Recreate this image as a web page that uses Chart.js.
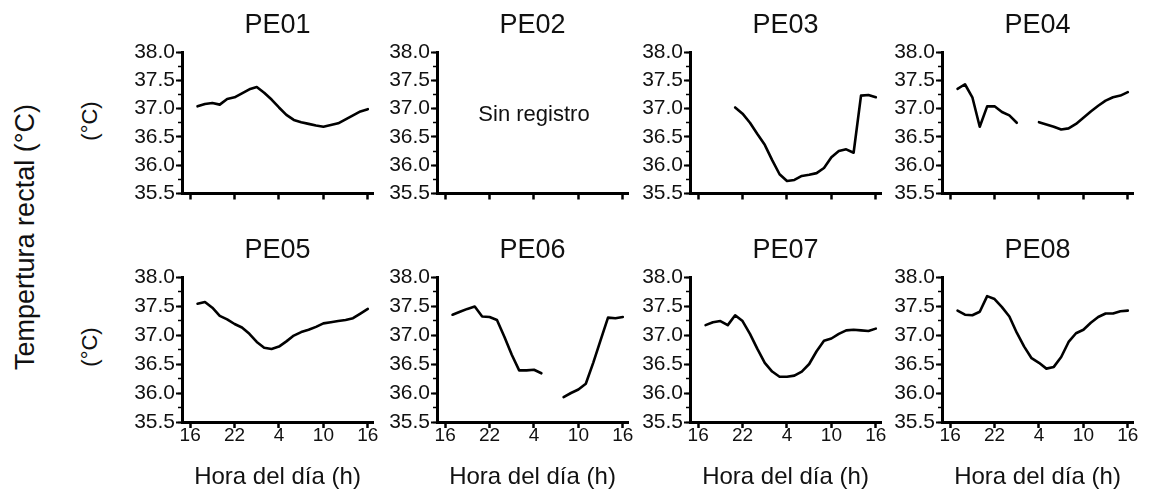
<!DOCTYPE html>
<html>
<head>
<meta charset="utf-8">
<script src="https://cdn.jsdelivr.net/npm/chart.js@4.4.1/dist/chart.umd.min.js"></script>
<style>
  body { margin: 0; background: #fff; width: 1152px; height: 492px; position: relative; overflow: hidden;
         font-family: "Liberation Sans", Arial, sans-serif; color: #111; }
  canvas { position: absolute; }
  .vlab { position: absolute; white-space: nowrap; line-height: 1;
          transform: translate(-50%, -50%) rotate(-90deg); }
</style>
</head>
<body>
<div class="vlab" style="left:25px; top:237px; font-size:27px;">Tempertura rectal (°C)</div>
<div class="vlab" style="left:90px; top:121px; font-size:22px;">(°C)</div>
<div class="vlab" style="left:90px; top:347px; font-size:22px;">(°C)</div>

<script>
const FONT = '"Liberation Sans", Arial, sans-serif';

// Sampling hours (16 h of day one through 16 h of day two, hourly)
const hours = [17, 18, 19, 20, 21, 22, 23, 24, 25, 26, 27, 28,
               29, 30, 31, 32, 33, 34, 35, 36, 37, 38, 39, 40];

// Tick positions on the continuous hour axis and the clock labels shown there
const xTickValues = [16, 22, 28, 34, 40];
const xTickLabels = ['16', '22', '4', '10', '16'];

const panelNames = ['PE01', 'PE02', 'PE03', 'PE04', 'PE05', 'PE06', 'PE07', 'PE08'];

// Rectal temperature (°C) per animal; null = no reading
const pe01 = [37.04, 37.08, 37.10, 37.07, 37.17, 37.20, 37.27, 37.34, 37.38, 37.28, 37.16, 37.02,
              36.89, 36.80, 36.76, 36.73, 36.70, 36.68, 36.71, 36.74, 36.81, 36.88, 36.95, 36.99];
const pe02 = [null, null, null, null, null, null, null, null, null, null, null, null,
              null, null, null, null, null, null, null, null, null, null, null, null];
const pe03 = [null, null, null, null, 37.02, 36.91, 36.75, 36.55, 36.36, 36.09, 35.84, 35.72,
              35.74, 35.81, 35.83, 35.86, 35.95, 36.14, 36.25, 36.28, 36.22, 37.23, 37.24, 37.20];
const pe04 = [37.35, 37.43, 37.20, 36.68, 37.04, 37.04, 36.94, 36.88, 36.75, null, null, 36.76,
              36.72, 36.68, 36.63, 36.65, 36.73, 36.84, 36.95, 37.05, 37.14, 37.20, 37.23, 37.29];
const pe05 = [37.54, 37.57, 37.47, 37.33, 37.27, 37.19, 37.13, 37.02, 36.88, 36.78, 36.76, 36.80,
              36.89, 36.99, 37.05, 37.09, 37.14, 37.20, 37.22, 37.24, 37.26, 37.29, 37.37, 37.45];
const pe06 = [37.35, 37.40, 37.45, 37.49, 37.32, 37.31, 37.26, 36.97, 36.66, 36.39, 36.39, 36.40,
              36.34, null, null, 35.93, 36.00, 36.06, 36.16, 36.52, 36.91, 37.30, 37.29, 37.31];
const pe07 = [37.17, 37.22, 37.24, 37.17, 37.34, 37.24, 37.02, 36.76, 36.52, 36.37, 36.28, 36.28,
              36.30, 36.37, 36.50, 36.72, 36.90, 36.94, 37.02, 37.08, 37.09, 37.08, 37.07, 37.11];
const pe08 = [37.42, 37.35, 37.34, 37.40, 37.67, 37.62, 37.48, 37.32, 37.04, 36.80, 36.60, 36.52,
              36.42, 36.45, 36.62, 36.88, 37.03, 37.09, 37.21, 37.31, 37.37, 37.37, 37.41, 37.42];

const series = [pe01, pe02, pe03, pe04, pe05, pe06, pe07, pe08];

// Panels without data carry a note in the middle of the plot
const panelNotes = { PE02: 'Sin registro' };

// Canvas placement of the 4 x 2 grid
const colLeft = [120, 375, 628, 880];
const rowTop = [6, 231];

const notePlugin = {
  id: 'panelNote',
  afterDatasetsDraw(chart, args, opts) {
    if (!opts || !opts.text) return;
    const { ctx, scales } = chart;
    ctx.save();
    ctx.fillStyle = '#111';
    ctx.font = '22px ' + FONT;
    ctx.textAlign = 'center';
    ctx.textBaseline = 'middle';
    ctx.fillText(opts.text, scales.x.getPixelForValue(opts.x), scales.y.getPixelForValue(opts.y));
    ctx.restore();
  }
};

function makePanel(i) {
  const col = i % 4, row = Math.floor(i / 4);
  const bottomRow = row === 1;
  const cv = document.createElement('canvas');
  cv.width = 261;
  cv.height = bottomRow ? 261 : 199;
  cv.style.left = colLeft[col] + 'px';
  cv.style.top = rowTop[row] + 'px';
  document.body.appendChild(cv);

  const name = panelNames[i];
  new Chart(cv, {
    type: 'line',
    data: {
      datasets: [{
        data: hours.map((h, k) => ({ x: h, y: series[i][k] })),
        xAxisID: 'x', yAxisID: 'y',
        borderColor: '#000', borderWidth: 2.6,
        pointRadius: 0, tension: 0, spanGaps: false, fill: false,
        borderJoinStyle: 'round', borderCapStyle: 'round'
      }]
    },
    plugins: [notePlugin],
    options: {
      responsive: false, animation: false, devicePixelRatio: 1,
      layout: { padding: { left: 0, right: 8, top: 0, bottom: 0 } },
      plugins: {
        legend: { display: false },
        tooltip: { enabled: false },
        title: {
          display: true, text: name, fullSize: false, color: '#111',
          font: { family: FONT, size: 27, weight: 'normal', lineHeight: 1.2 },
          padding: { top: 3, bottom: 10.6 }
        },
        panelNote: panelNotes[name] ? { text: panelNotes[name], x: 28, y: 36.88 } : {}
      },
      scales: {
        x: {
          type: 'linear', position: 'bottom', min: 14.9, max: 40.7,
          afterBuildTicks: s => { s.ticks = xTickValues.map(v => ({ value: v })); },
          afterFit: s => { s.height = bottomRow ? 70 : 8; },
          grid: { drawOnChartArea: false, drawTicks: true, tickLength: 6, tickWidth: 2.5, tickColor: '#000' },
          border: { display: true, color: '#000', width: 3 },
          ticks: {
            display: bottomRow, autoSkip: false, maxRotation: 0, padding: -2, color: '#111',
            font: { family: FONT, size: 19, lineHeight: 1 },
            callback: v => xTickLabels[xTickValues.indexOf(v)]
          },
          title: {
            display: bottomRow, text: 'Hora del día (h)', color: '#111',
            font: { family: FONT, size: 24, lineHeight: 1.2 }, padding: { top: 0, bottom: 0 }
          }
        },
        y: {
          position: 'left', weight: 1, min: 35.5, max: 38,
          afterFit: s => { s.width = 62; },
          grid: { drawOnChartArea: false, tickLength: 6, tickWidth: 2, tickColor: '#000' },
          border: { display: true, color: '#000', width: 3 },
          ticks: {
            stepSize: 0.5, autoSkip: false, padding: 1, color: '#111',
            font: { family: FONT, size: 21, lineHeight: 1 },
            callback: v => v.toFixed(1)
          }
        },
        yMinor: {
          position: 'left', weight: 0, min: 35.5, max: 38,
          afterFit: s => { s.width = 0; },
          grid: { drawOnChartArea: false, tickLength: 4, tickWidth: 1.5, tickColor: '#000' },
          border: { display: false },
          ticks: { stepSize: 0.25, display: false }
        }
      }
    }
  });
}

for (let i = 0; i < panelNames.length; i++) makePanel(i);
</script>
</body>
</html>
